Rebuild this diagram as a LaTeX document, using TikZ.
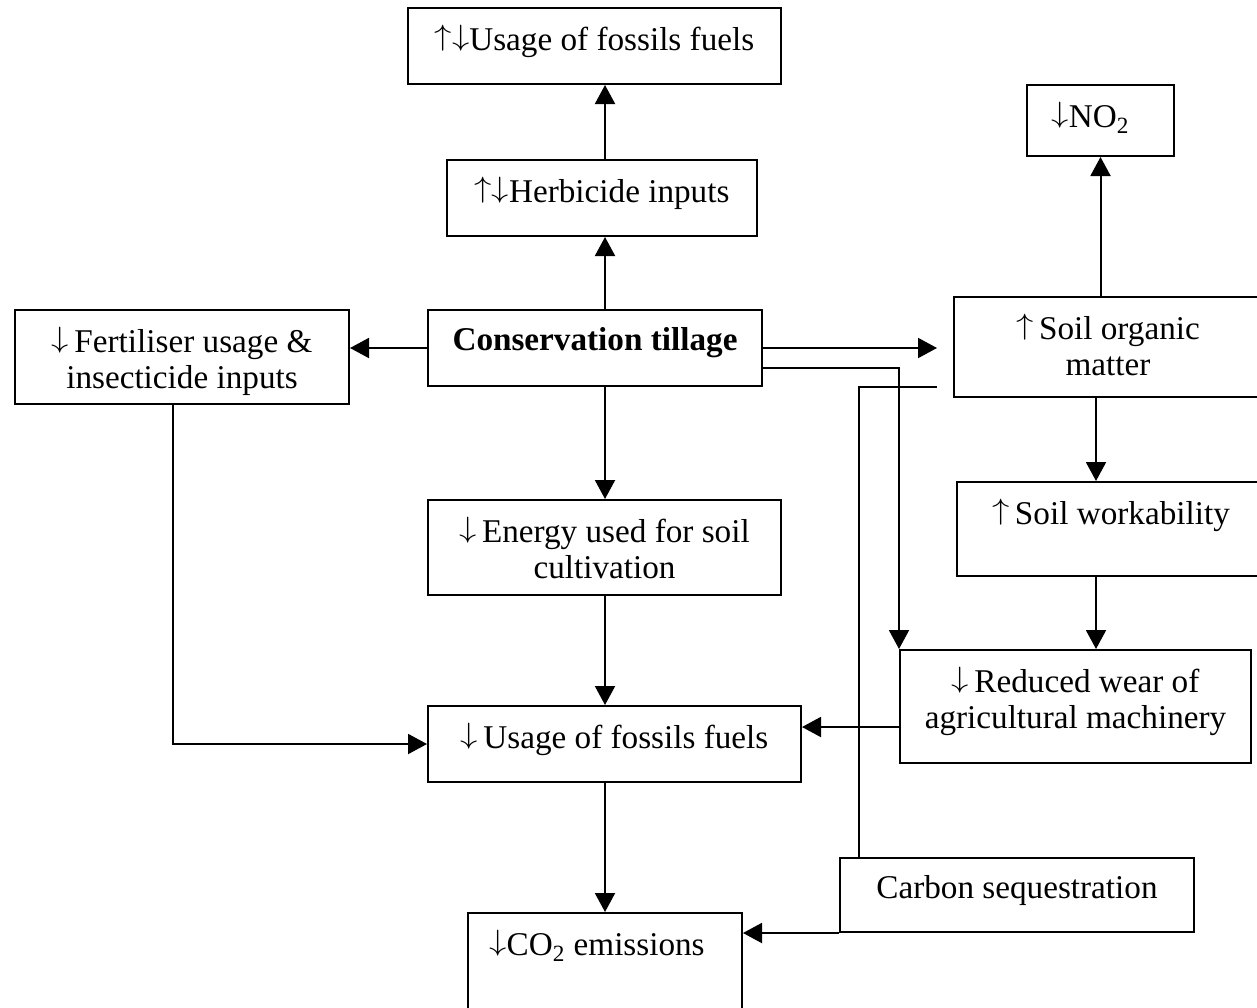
\documentclass[tikz,border=0pt]{standalone}
\usepackage{fontspec}
\usepackage{graphicx}
\setmainfont{Liberation Serif}
\usetikzlibrary{arrows.meta, positioning, calc}

% 细箭头符号
\newcommand\arrup{\raisebox{0.165em}{\scalebox{1}[0.85]{$\uparrow$}}}
\newcommand\arrdn{\raisebox{0.165em}{\scalebox{1}[0.85]{$\downarrow$}}}

% --- 样式 ---
\tikzset{
  box/.style={draw, line width=1pt, inner sep=0pt},
  txt/.style={align=center, inner sep=0pt, font=\fontsize{16.6}{18}\selectfont},
}

\begin{document}
\begin{tikzpicture}[x=0.5pt, y=-0.5pt, line width=1pt, >={Triangle[length=9.5pt, width=10pt]}]

    % --- 定义变量 ---
    % 画布大小与两条竖向对齐线
    \useasboundingbox (0, 0) rectangle (1257, 1007);
    \coordinate (mid) at (605, 0);
    \coordinate (rcol) at (1096, 0);

    % --- 1. 中间一列方框 ---
    \node[box, minimum width=186.5pt, minimum height=38pt] (fos) at (594.5, 46) {};
    \node[box, minimum width=155pt, minimum height=38pt] (herb) at (602, 198) {};
    \node[box, minimum width=167pt, minimum height=38pt] (ct) at (595, 348) {};
    \node[box, minimum width=176.5pt, minimum height=47.5pt] (en) at (604.5, 547.5) {};
    \node[box, minimum width=186.5pt, minimum height=38pt] (lu) at (614.5, 744) {};
    \node[box, minimum width=137pt, minimum height=63.5pt] (co2) at (605, 976.5) {};

    % --- 2. 左右两侧方框 ---
    \node[box, minimum width=167pt, minimum height=47pt] (fert) at (182, 357) {};
    \node[box, minimum width=73.5pt, minimum height=35.5pt] (no2) at (1100.5, 120.5) {};
    \node[box, minimum width=154pt, minimum height=50pt] (som) at (1108, 347) {};
    \node[box, minimum width=154pt, minimum height=47pt] (sw) at (1111, 529) {};
    \node[box, minimum width=175.5pt, minimum height=56.5pt] (rw) at (1075.5, 706.5) {};
    \node[box, minimum width=177pt, minimum height=37pt] (cs) at (1017, 895) {};

    % --- 3. 方框里的文字 ---
    % 文字靠近方框上沿
    \node[txt, below=8.5pt of fos.north] (fos-t) {\arrup\arrdn Usage of fossils fuels};
    \node[txt, below=8.5pt of herb.north] (herb-t) {\arrup\arrdn Herbicide inputs};
    \node[txt, below=8.5pt of ct.north] (ct-t) {\textbf{Conservation tillage}};
    \node[txt, below=8.5pt of en.north] (en-t) {\arrdn\,Energy used for soil\\cultivation};
    \node[txt, below=8.5pt of lu.north] (lu-t) {\arrdn\,Usage of fossils fuels};
    \node[txt, below=8.5pt of co2.north, xshift=-4pt] (co2-t) {\arrdn CO\textsubscript{2} emissions};
    \node[txt, below=8.5pt of fert.north] (fert-t) {\arrdn\,Fertiliser usage \&\\insecticide inputs};
    \node[txt, below=8.5pt of no2.north, xshift=-5pt] (no2-t) {\arrdn NO\textsubscript{2}};
    \node[txt, below=8.5pt of som.north] (som-t) {\arrup\,Soil organic\\matter};
    \node[txt, below=8.5pt of sw.north] (sw-t) {\arrup\,Soil workability};
    \node[txt, below=8.5pt of rw.north] (rw-t) {\arrdn\,Reduced wear of\\agricultural machinery};
    \node[txt, below=8.5pt of cs.north] (cs-t) {Carbon sequestration};

    % --- 4. 中间一列的箭头 ---
    \draw[->] (herb.north -| mid) -- (fos.south -| mid);
    \draw[->] (ct.north -| mid) -- (herb.south -| mid);
    \draw[->] (ct.south -| mid) -- (en.north -| mid);
    \draw[->] (en.south -| mid) -- (lu.north -| mid);
    \draw[->] (lu.south -| mid) -- (co2.north -| mid);

    % --- 5. 从 Conservation tillage 出发的连线 ---
    \draw[->] (ct.west) -- (ct.west -| fert.east);
    \draw[->] (ct.east) -- ($(ct.east -| som.west) + (-16, 0)$);
    \draw[->] ($(ct.east) + (0, 20)$) -| (rw.north west);

    % --- 6. 右侧一列 ---
    \draw[->] (som.north -| no2.south) -- (no2.south);
    \draw[->] (som.south -| rcol) -- (sw.north -| rcol);
    \draw[->] (sw.south -| rcol) -- (rw.north -| rcol);
    \coordinate (rwin) at ($(rw.west) + (0, 20.5)$);
    \draw[->] (rwin) -- (rwin -| lu.east);

    % --- 7. 左侧与底部 ---
    \draw[->] ($(fert.south) + (-9, 0)$) |- (lu.west);
    \draw ($(cs.north west) + (20, 0)$) |- ($(som.south west) + (-16, -11)$);
    \draw[->] (cs.south west) -- (cs.south west -| co2.east);

\end{tikzpicture}
\end{document}
